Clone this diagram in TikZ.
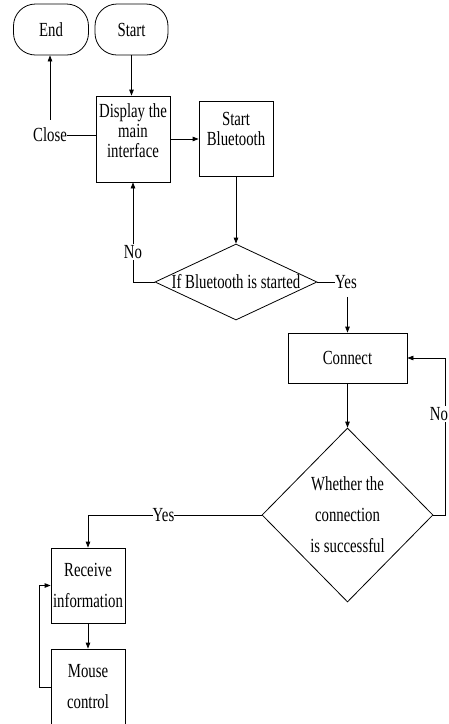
\documentclass[tikz,border=0pt]{standalone}
\usepackage{fontspec}
\setmainfont[FakeStretch=0.74]{Liberation Serif}
\usetikzlibrary{arrows.meta,shapes.geometric}
\begin{document}
\begin{tikzpicture}[x=1pt,y=-1pt,
  every node/.style={font=\fontsize{20}{20}\selectfont, inner sep=0pt},
  line/.style={draw, line width=0.8pt},
  arr/.style={line width=0.8pt, -{Triangle[length=6pt,width=4.5pt]}},
  term/.style={draw, line width=0.8pt, rounded corners=22pt, minimum height=51pt},
  procbox/.style={draw, line width=0.8pt},
  dec/.style={draw, diamond, line width=0.8pt},
  lbl/.style={fill=white, inner sep=1pt},
  txt/.style={align=center},
  wide/.style={font=\fontsize{20}{31}\selectfont, align=center}]
\useasboundingbox (0,0) rectangle (449,724);
\clip (0,0) rectangle (449,724);
% shapes
\node[term, minimum width=75pt] (endn) at (51,29.5) {End};
\node[term, minimum width=73pt] (startn) at (131.5,29.5) {Start};
\node[procbox, minimum width=74pt, minimum height=86pt] (disp) at (133,139) {};
\node[txt] (disptxt) at (133,131) {Display the\\main\\interface};
\node[procbox, minimum width=74pt, minimum height=75pt] (bt) at (236,138.5) {};
\node[txt] (bttxt) at (236,129) {Start\\Bluetooth};
\node[dec, minimum width=162pt, minimum height=76pt] (d1) at (236,282) {};
\node (d1txt) at (236,282) {If Bluetooth is started};
\node[procbox, minimum width=119pt, minimum height=50pt] (conn) at (347.5,358) {Connect};
\node[dec, minimum width=171pt, minimum height=174pt] (d2) at (347.5,515) {};
\node[wide] (d2txt) at (347.5,515) {Whether the\\connection\\is successful};
\node[procbox, wide, minimum width=74pt, minimum height=75pt] (rec) at (88,585.5) {Receive\\information};
\node[procbox, wide, minimum width=74pt, minimum height=76pt] (mouse) at (88,687) {Mouse\\control};
% labels
\node (close) at (50,135) {Close};
\node (yes1) at (346,282) {Yes};
\node (yes2) at (163.5,515) {Yes};
\coordinate (rt) at (445,0);
\coordinate (lft) at (39,0);
% connectors
\draw[arr] (startn.south) -- (startn.south |- disp.north);
\draw[line] (close.east) -- (close.east -| disp.west);
\draw[arr, shorten <=8pt] (close.north) -- (close.north |- endn.south);
\draw[arr] (disp.east) -- (disp.east -| bt.west);
\draw[arr] (bt.south) -- (d1.north);
\draw[arr] (d1.west) -| (disp.south);
\draw[line] (d1.east) -- (yes1.west);
\draw[arr, shorten <=8pt] (yes1.south -| conn.north) -- (conn.north);
\draw[arr] (conn.south) -- (d2.north);
\draw[arr] (d2.east) -- (d2.east -| rt) -- (rt |- conn.east) -- (conn.east);
\draw[line] (d2.west) -- (yes2.east);
\draw[arr] (yes2.west) -| (rec.north);
\draw[arr] (rec.south) -- (mouse.north);
\draw[arr] (mouse.west) -- (mouse.west -| lft) |- (rec.west);
% labels on lines
\node[lbl] (no1) at (133,252) {No};
\node[lbl] (no2) at (439,414) {No};
\end{tikzpicture}
\end{document}
